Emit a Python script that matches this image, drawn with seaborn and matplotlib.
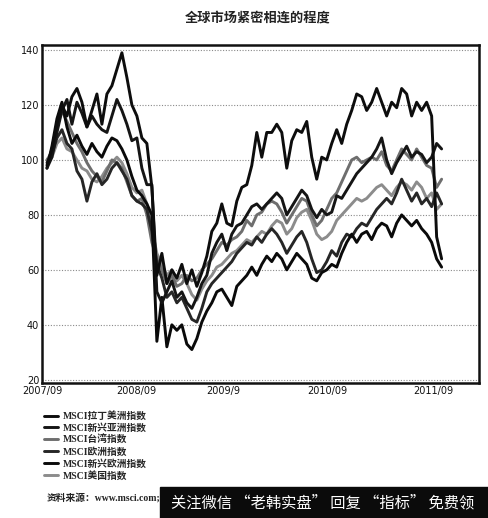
import numpy as np
import pandas as pd
import matplotlib
matplotlib.use("Agg")
import matplotlib.pyplot as plt
from matplotlib.patches import Rectangle
import seaborn as sns

# ------------------ DATA ------------------
title = "全球市场紧密相连的程度"
tick_labels = ["2007/09", "2008/09", "2009/9", "2010/09", "2011/09"]
tick_months = [0, 11.5, 22.2, 34.9, 47.9]
y_ticks = [20, 40, 60, 80, 100, 120, 140]

# roughly two-weekly samples from 2007/09 to end of 2011/09
months = np.linspace(0.6, 48.9, 80)

latam = [98, 104, 113, 120, 116, 123, 126, 121, 112, 118,
         124, 113, 124, 127, 133, 139, 130, 120, 116, 108,
         106, 90, 58, 66, 55, 60, 57, 62, 55, 60,
         54, 59, 65, 74, 77, 84, 77, 76, 85, 90,
         91, 98, 110, 101, 110, 110, 113, 110, 97, 107,
         111, 110, 114, 101, 93, 101, 100, 106, 111, 106,
         113, 118, 124, 123, 118, 121, 126, 121, 116, 121,
         119, 126, 124, 116, 121, 118, 121, 116, 72, 64]

em_asia = [97, 101, 110, 118, 122, 113, 121, 117, 112, 116,
           113, 111, 110, 116, 122, 118, 113, 107, 108, 97,
           91, 91, 52, 48, 52, 56, 50, 52, 48, 46,
           50, 55, 58, 66, 70, 73, 67, 73, 76, 77,
           80, 83, 84, 82, 84, 86, 88, 86, 80, 83,
           86, 89, 87, 82, 79, 82, 80, 81, 87, 86,
           89, 92, 95, 97, 99, 101, 104, 108, 100, 95,
           99, 102, 105, 101, 103, 102, 99, 101, 106, 104]

taiwan = [100, 103, 112, 118, 114, 110, 106, 103, 99, 96,
          94, 92, 96, 100, 99, 97, 92, 87, 85, 86,
          80, 70, 64, 60, 55, 58, 54, 55, 58, 56,
          57, 60, 62, 64, 67, 70, 69, 71, 72, 74,
          78, 76, 80, 81, 84, 85, 84, 81, 77, 80,
          83, 86, 85, 80, 76, 78, 82, 86, 88, 92,
          96, 100, 101, 99, 100, 101, 100, 103, 98, 96,
          100, 104, 102, 100, 104, 101, 98, 97, 90, 93]

europe = [99, 102, 108, 111, 106, 104, 96, 93, 85, 92,
          95, 91, 93, 97, 99, 96, 93, 87, 85, 84,
          82, 74, 62, 57, 50, 52, 48, 50, 46, 42,
          41, 46, 52, 55, 57, 59, 61, 63, 66, 68,
          70, 69, 72, 70, 73, 75, 73, 70, 66, 69,
          72, 74, 70, 64, 59, 60, 63, 67, 65, 70,
          73, 72, 75, 77, 76, 79, 82, 84, 86, 84,
          88, 93, 89, 85, 88, 84, 86, 83, 88, 84]

em_europe = [97, 105, 115, 121, 112, 106, 109, 105, 102, 106,
             103, 101, 105, 108, 107, 104, 100, 94, 89, 87,
             84, 80, 34, 50, 32, 40, 38, 40, 33, 31,
             35, 41, 45, 48, 52, 53, 50, 47, 54, 56,
             58, 61, 58, 62, 65, 63, 66, 64, 60, 63,
             66, 64, 62, 57, 56, 59, 60, 62, 61, 66,
             70, 73, 70, 73, 74, 71, 75, 77, 76, 72,
             77, 80, 78, 76, 78, 75, 73, 70, 64, 61]

usa = [100, 101, 106, 108, 104, 103, 100, 97, 96, 93,
       92, 94, 97, 99, 101, 99, 95, 90, 88, 89,
       84, 75, 66, 62, 58, 60, 56, 58, 55, 51,
       49, 53, 56, 58, 61, 62, 64, 66, 67, 69,
       71, 70, 72, 74, 73, 76, 78, 77, 73, 75,
       79, 81, 82, 78, 73, 71, 72, 74, 78, 80,
       82, 84, 86, 85, 86, 88, 90, 91, 89, 87,
       90, 92, 91, 89, 92, 90, 86, 88, 82, 84]

legend_names = ["MSCI拉丁美洲指数", "MSCI新兴亚洲指数", "MSCI台湾指数",
                "MSCI欧洲指数", "MSCI新兴欧洲指数", "MSCI美国指数"]
values = [latam, em_asia, taiwan, europe, em_europe, usa]

df = pd.concat([pd.DataFrame({"month": months, "value": v, "index": n})
                for n, v in zip(legend_names, values)], ignore_index=True)

# ------------------ STYLE ------------------
line_colors = {"MSCI拉丁美洲指数": "#0d0d0d", "MSCI新兴亚洲指数": "#151515",
               "MSCI台湾指数": "#6e6e6e", "MSCI欧洲指数": "#262626",
               "MSCI新兴欧洲指数": "#0a0a0a", "MSCI美国指数": "#8c8c8c"}
draw_order = ["MSCI美国指数", "MSCI台湾指数", "MSCI欧洲指数",
              "MSCI新兴欧洲指数", "MSCI新兴亚洲指数", "MSCI拉丁美洲指数"]

sns.set_theme(style="white")
plt.rcParams['font.family'] = ['DejaVu Sans', 'Noto Sans CJK SC']

fig = plt.figure(figsize=(4.89, 5.18), dpi=100)
ax = fig.add_axes([0.086, 0.261, 0.894, 0.652])

for name in draw_order:
    sns.lineplot(data=df[df["index"] == name], x="month", y="value", ax=ax,
                 color=line_colors[name], lw=2.1, label=name, legend=False)

ax.set_xlim(0, 53.5)
ax.set_ylim(18.9, 141.8)
ax.set_xticks(tick_months)
ax.set_xticklabels(tick_labels, fontsize=7, color="#111")
ax.set_yticks(y_ticks)
ax.set_yticklabels([str(t) for t in y_ticks], fontsize=7, color="#111")
ax.tick_params(length=0, pad=2)
ax.set_xlabel("")
ax.set_ylabel("")
ax.yaxis.grid(True, linestyle=(0, (1, 1.5)), color="#8a8a8a", lw=0.8)
ax.xaxis.grid(False)
for s in ax.spines.values():
    s.set_color("#111")
    s.set_linewidth(1.8)

fig.text(0.526, 0.965, title, ha="center", va="center", fontsize=9.5,
         fontweight="bold", color="#222", family=['Noto Sans CJK SC'])

handles, labels = ax.get_legend_handles_labels()
lookup = dict(zip(labels, handles))
fig.legend([lookup[n] for n in legend_names], legend_names,
           loc="upper left", bbox_to_anchor=(44 / 489, 1 - 411 / 518),
           frameon=False, handlelength=1.4, handletextpad=0.5,
           labelspacing=0.22, borderaxespad=0, borderpad=0,
           prop={"family": ['Liberation Serif', 'Noto Sans CJK SC'],
                 "weight": "bold", "size": 7})

fig.text(47 / 489, 1 - 498 / 518, "资料来源：www.msci.com;", ha="left", va="center",
         fontsize=7, fontweight="bold", color="#222",
         family=['Liberation Serif', 'Noto Sans CJK SC'])

# watermark banner at bottom right
fig.patches.append(Rectangle((160 / 489, 0), 329 / 489, 31 / 518,
                             transform=fig.transFigure, color="#0b0b0b", zorder=5))
fig.text(323 / 489, 15 / 518, "关注微信 “老韩实盘” 回复 “指标” 免费领",
         ha="center", va="center", fontsize=11, color="white", zorder=6,
         family=['Noto Sans CJK SC'])

fig.savefig("out.png", dpi=100)
